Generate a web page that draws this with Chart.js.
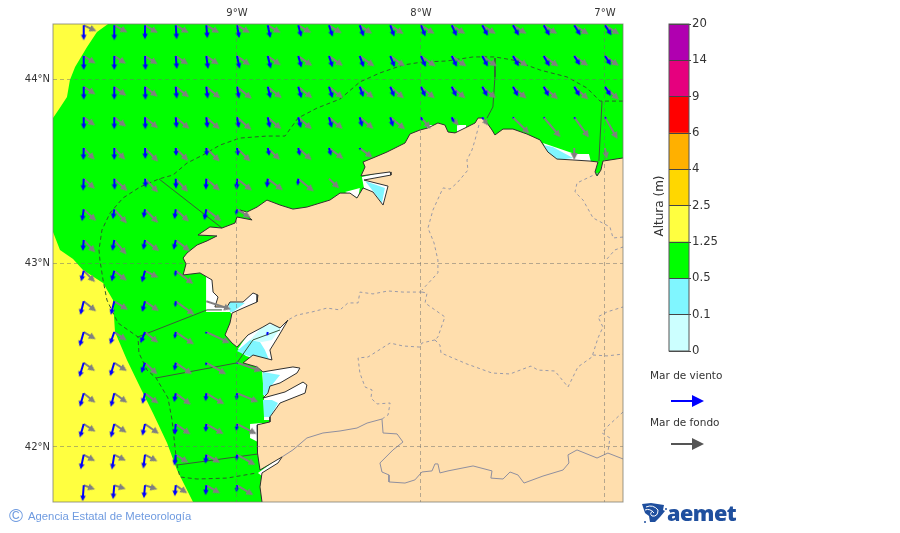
<!DOCTYPE html>
<html>
<head>
<meta charset="utf-8">
<title>Altura de ola</title>
<script src="https://cdn.jsdelivr.net/npm/chart.js@4"></script>
<style>
  html, body {margin: 0; background: #fff;}
  #page {position: relative; width: 900px; height: 533px; overflow: hidden; font-family: "DejaVu Sans", sans-serif;}
  canvas {position: absolute;}
  #map {left: 0; top: 0;}
  #bar {left: 640px; top: 10px;}
  .lbl {position: absolute; font-size: 10.5px; color: #333; white-space: nowrap;}
  .arrow {position: absolute; left: 670px;}
  #agencia {position: absolute; left: 28px; top: 510px; font: 11.3px "Liberation Sans", sans-serif; color: #6f9be0; white-space: nowrap;}
  #copy {position: absolute; left: 9px; top: 505px; font: 19px "Liberation Sans", sans-serif; color: #6f9be0;}
  #aemet {position: absolute; left: 667px; top: 498px; font: 800 21.6px "Open Sans", sans-serif; color: #1f4f9e; letter-spacing: -0.5px;}
  #logo {position: absolute; left: 642px; top: 502px;}
</style>
</head>
<body>
<div id="page">
  <canvas id="map" width="900" height="533"></canvas>
  <canvas id="bar" width="120" height="350"></canvas>
  <div class="lbl" style="left:650px;top:369px">Mar de viento</div>
  <svg class="arrow" style="top:394px" width="36" height="14"><line x1="1" y1="7" x2="24" y2="7" stroke="#0000ff" stroke-width="2"/><polygon points="22,1 34,7 22,13" fill="#0000ff"/></svg>
  <div class="lbl" style="left:650px;top:416px">Mar de fondo</div>
  <svg class="arrow" style="top:437px" width="36" height="14"><line x1="1" y1="7" x2="24" y2="7" stroke="#555" stroke-width="2"/><polygon points="22,1 34,7 22,13" fill="#555"/></svg>
  <svg id="logo" width="25" height="22"><path d="M0 2 L9 1 L22 3 L21 8 L23 9 L18 15 L13 20 L8 20 L7 14 L3 11 Z" fill="#1f4f9e"/><path d="M4 5 Q11 2 16 8 Q16 15 10 14 Q7 11 11 9 M3 8 Q8 6 12 11" fill="none" stroke="#fff" stroke-width="1"/><circle cx="24" cy="7" r="1" fill="#1f4f9e"/><circle cx="3" cy="20" r="1" fill="#1f4f9e"/></svg>
  <div id="aemet">aemet</div>
  <div id="copy">©</div>
  <div id="agencia">Agencia Estatal de Meteorología</div>
</div>
<script>
/*_____________________DATA____________________*/

const lonTicks = [-9, -8, -7];
const latTicks = [44, 43, 42];
const lonRange = [-10, -6.902];
const latRange = [41.701, 44.299];

const levels = [0, 0.1, 0.5, 1.25, 2.5, 4, 6, 9, 14, 20];
const levelColors = ['#ccffff', '#80f6ff', '#00ff00', '#ffff40', '#ffd700', '#ffb000', '#ff0000', '#e6007e', '#b000b0'];

// sea over 1.25 m starts west of this edge, everything east of it is the green band
const greenEdge = [[-9.701,44.299],[-9.761,44.255],[-9.815,44.174],[-9.880,44.065],[-9.908,43.995],[-9.924,43.902],[-9.965,43.840],[-10,43.788],[-10,43.168],[-9.962,43.071],[-9.891,43.022],[-9.837,42.962],[-9.728,42.891],[-9.674,42.799],[-9.663,42.625],[-9.598,42.473],[-9.527,42.326],[-9.457,42.185],[-9.380,42.022],[-9.326,41.875],[-9.239,41.701],[-6.902,41.701],[-6.902,44.299]];

const coast = [[-6.902,43.571],[-7.011,43.554],[-7.016,43.554],[-7.022,43.505],[-7.043,43.473],[-7.054,43.495],[-7.038,43.549],[-7.081,43.554],[-7.174,43.560],[-7.261,43.565],[-7.310,43.603],[-7.353,43.669],[-7.424,43.701],[-7.500,43.728],[-7.554,43.728],[-7.598,43.696],[-7.614,43.723],[-7.641,43.761],[-7.668,43.788],[-7.690,43.788],[-7.706,43.761],[-7.750,43.739],[-7.815,43.707],[-7.853,43.712],[-7.870,43.750],[-7.908,43.761],[-7.962,43.734],[-8.005,43.723],[-8.060,43.701],[-8.087,43.652],[-8.185,43.603],[-8.261,43.571],[-8.315,43.549],[-8.304,43.522],[-8.326,43.473],[-8.250,43.484],[-8.168,43.495],[-8.163,43.478],[-8.250,43.462],[-8.310,43.451],[-8.179,43.418],[-8.206,43.315],[-8.261,43.386],[-8.315,43.408],[-8.348,43.353],[-8.386,43.380],[-8.440,43.380],[-8.495,43.342],[-8.620,43.304],[-8.696,43.293],[-8.766,43.315],[-8.837,43.342],[-8.891,43.304],[-8.946,43.277],[-8.984,43.288],[-8.918,43.234],[-9.000,43.250],[-9.011,43.217],[-9.082,43.190],[-9.147,43.196],[-9.212,43.152],[-9.109,43.147],[-9.163,43.120],[-9.217,43.098],[-9.272,43.054],[-9.293,43.027],[-9.277,42.995],[-9.293,42.935],[-9.201,42.946],[-9.136,42.908],[-9.130,42.842],[-9.103,42.815],[-9.120,42.761],[-9.054,42.761],[-9.038,42.788],[-8.967,42.788],[-8.913,42.837],[-8.886,42.826],[-8.891,42.788],[-8.967,42.755],[-9.027,42.728],[-9.038,42.674],[-9.065,42.609],[-9.027,42.565],[-9.000,42.543],[-8.940,42.609],[-8.859,42.652],[-8.821,42.674],[-8.766,42.647],[-8.723,42.690],[-8.777,42.598],[-8.821,42.527],[-8.810,42.473],[-8.913,42.500],[-8.967,42.457],[-8.891,42.435],[-8.859,42.408],[-8.696,42.435],[-8.658,42.429],[-8.674,42.402],[-8.766,42.348],[-8.821,42.331],[-8.832,42.293],[-8.859,42.266],[-8.739,42.299],[-8.641,42.353],[-8.620,42.337],[-8.630,42.293],[-8.766,42.239],[-8.821,42.163],[-8.821,42.136],[-8.891,42.120],[-8.891,42.038],[-8.886,41.967],[-8.875,41.875],[-8.755,41.946],[-8.777,41.913],[-8.864,41.859],[-8.875,41.783],[-8.864,41.701]];
const inlandCorner = [[-6.902,41.701]];

const whitePatches = [
  [[-9.168,42.924],[-9.168,42.734],[-9.038,42.734],[-9.011,42.701],[-8.864,42.783],[-8.864,42.864],[-9.065,42.853],[-9.136,42.951]],
  [[-8.995,42.533],[-8.940,42.614],[-8.859,42.663],[-8.712,42.701],[-8.793,42.446],[-8.951,42.495]],
  [[-8.864,42.418],[-8.647,42.451],[-8.658,42.386],[-8.766,42.331],[-8.853,42.266]],
  [[-8.853,42.266],[-8.614,42.364],[-8.614,42.277],[-8.810,42.147],[-8.853,42.147]],
  [[-8.929,42.125],[-8.929,42.049],[-8.886,42.027],[-8.864,42.038],[-8.864,42.130]],
  [[-8.886,41.859],[-8.750,41.957],[-8.750,41.897],[-8.864,41.842]],
  [[-7.337,43.652],[-7.163,43.592],[-7.087,43.592],[-7.076,43.549],[-7.272,43.543]],
  [[-7.967,43.750],[-7.935,43.750],[-7.935,43.717],[-7.967,43.717]],
  [[-7.804,43.750],[-7.755,43.750],[-7.755,43.717],[-7.804,43.701]],
  [[-8.321,43.467],[-8.158,43.505],[-8.152,43.462],[-8.158,43.397],[-8.196,43.299],[-8.277,43.386],[-8.310,43.408]],
  [[-8.413,43.386],[-8.332,43.408],[-8.342,43.353]]
];
const paleBluePatches = [
  [[-8.929,42.582],[-8.859,42.658],[-8.739,42.679],[-8.810,42.582],[-8.864,42.571]]
];
const blueWaterPatches = [
  [[-9.049,42.788],[-8.957,42.783],[-9.022,42.734],[-9.038,42.734]],
  [[-9.000,42.522],[-8.929,42.582],[-8.875,42.571],[-8.848,42.527],[-8.821,42.462],[-8.913,42.489],[-8.957,42.500]],
  [[-8.859,42.408],[-8.766,42.391],[-8.810,42.337],[-8.842,42.283],[-8.859,42.283]],
  [[-8.859,42.255],[-8.810,42.255],[-8.777,42.239],[-8.821,42.163],[-8.853,42.163]],
  [[-7.337,43.641],[-7.283,43.630],[-7.174,43.571],[-7.261,43.560],[-7.310,43.598]],
  [[-8.304,43.446],[-8.196,43.408],[-8.212,43.326],[-8.261,43.391]]
];

const offshoreLimit = [[-6.902,43.880],[-7.027,43.880],[-7.098,43.951],[-7.206,44.011],[-7.353,44.049],[-7.500,44.103],[-7.598,44.120],[-7.717,44.120],[-7.859,44.098],[-7.995,44.092],[-8.098,44.076],[-8.223,44.033],[-8.332,43.984],[-8.440,43.891],[-8.565,43.842],[-8.668,43.788],[-8.739,43.690],[-8.837,43.690],[-8.984,43.679],[-9.092,43.641],[-9.185,43.587],[-9.272,43.543],[-9.348,43.478],[-9.424,43.457],[-9.527,43.413],[-9.620,43.353],[-9.690,43.272],[-9.734,43.179],[-9.750,43.071],[-9.745,43.016],[-9.728,42.908],[-9.707,42.799],[-9.647,42.674],[-9.538,42.598],[-9.533,42.511],[-9.489,42.418],[-9.440,42.375],[-9.375,42.266],[-9.353,42.147],[-9.337,42.000],[-9.326,41.902],[-9.310,41.837],[-9.217,41.826],[-9.054,41.831],[-8.891,41.859]];
const zoneLines = [
  [[-9.424,43.457],[-9.082,43.190]],
  [[-9.538,42.598],[-9.163,42.745],[-9.082,42.745]],
  [[-9.440,42.375],[-9.000,42.457],[-8.913,42.582],[-8.766,42.636]],
  [[-9.326,41.902],[-8.886,41.962]],
  [[-7.598,44.114],[-7.598,44.011],[-7.609,43.848],[-7.641,43.788]],
  [[-7.016,43.880],[-7.033,43.554]]
];
const provinceLines = [
  [[-7.685,43.750],[-7.706,43.669],[-7.723,43.614],[-7.750,43.560],[-7.745,43.505],[-7.804,43.435],[-7.842,43.402],[-7.880,43.408],[-7.935,43.288],[-7.962,43.190],[-7.929,43.109],[-7.908,43.016],[-7.908,42.946],[-7.995,42.853]],
  [[-7.995,42.842],[-8.098,42.842],[-8.179,42.848],[-8.261,42.832],[-8.332,42.842],[-8.342,42.783],[-8.397,42.783],[-8.440,42.745],[-8.511,42.755],[-8.592,42.734],[-8.674,42.717],[-8.723,42.690]],
  [[-7.995,42.842],[-7.967,42.837],[-7.978,42.783],[-7.870,42.707],[-7.908,42.598],[-7.924,42.582]],
  [[-7.924,42.582],[-7.995,42.565],[-8.005,42.543],[-8.098,42.549],[-8.168,42.565],[-8.288,42.489],[-8.342,42.484],[-8.332,42.402],[-8.304,42.326],[-8.266,42.310],[-8.272,42.266],[-8.239,42.234],[-8.168,42.239],[-8.179,42.174],[-8.212,42.152]],
  [[-7.924,42.582],[-7.897,42.554],[-7.891,42.511],[-7.750,42.451],[-7.614,42.402],[-7.516,42.397],[-7.402,42.440],[-7.364,42.418],[-7.272,42.413],[-7.201,42.326],[-7.147,42.435],[-7.071,42.489],[-7.038,42.592],[-7.011,42.652],[-7.038,42.707],[-6.989,42.734],[-6.902,42.761]],
  [[-7.065,42.500],[-6.989,42.495],[-6.902,42.505]],
  [[-7.038,43.489],[-7.152,43.435],[-7.163,43.386],[-7.119,43.342],[-7.065,43.245],[-6.973,43.196],[-6.956,43.136],[-6.902,43.141]],
  [[-6.989,43.022],[-6.946,43.071],[-6.902,43.087]],
  [[-6.902,42.190],[-6.989,42.109],[-7.016,42.076],[-6.973,42.049],[-6.984,41.973]]
];
const borderLine = [[-8.755,41.946],[-8.696,41.984],[-8.620,42.049],[-8.533,42.076],[-8.440,42.087],[-8.348,42.103],[-8.293,42.130],[-8.212,42.152],[-8.206,42.076],[-8.130,42.071],[-8.098,42.027],[-8.152,41.984],[-8.223,41.913],[-8.212,41.864],[-8.174,41.848],[-8.174,41.810],[-8.087,41.804],[-8.033,41.821],[-7.995,41.864],[-7.940,41.870],[-7.924,41.908],[-7.908,41.908],[-7.897,41.859],[-7.853,41.870],[-7.717,41.897],[-7.614,41.870],[-7.620,41.831],[-7.554,41.826],[-7.516,41.864],[-7.473,41.848],[-7.440,41.804],[-7.337,41.842],[-7.228,41.875],[-7.196,41.913],[-7.201,41.957],[-7.152,41.984],[-7.043,41.940],[-6.984,41.967],[-6.902,41.935]];

const gridLons = [-9.833,-9.667,-9.5,-9.333,-9.167,-9,-8.833,-8.667,-8.5,-8.333,-8.167,-8,-7.833,-7.667,-7.5,-7.333,-7.167,-7];
const gridLats = [44.292,44.125,43.958,43.792,43.625,43.458,43.292,43.125,42.958,42.792,42.625,42.458,42.292,42.125,41.958,41.792];
const _ = null;

// heading in degrees, clockwise from east as seen on the map
const windDir = [
  [90,90,90,86,85,80,78,75,72,70,70,68,65,62,60,60,58,57],
  [90,90,88,85,82,78,76,74,72,70,68,66,64,62,60,60,58,57],
  [90,90,88,85,83,80,76,74,72,70,68,66,64,62,62,62,60,58],
  [90,90,88,85,83,80,78,76,74,75,73,70,65,60,55,55,55,55],
  [92,90,88,86,85,82,78,78,75,72],
  [93,88,85,88,92,92,95,95],
  [98,98,100,97,100,100],
  [95,100,100,102],
  [104,104,105,95],
  [104,104,105,95],
  [106,109,112,100,100,_,100],
  [107,107,109,100,100,100],
  [106,104,104,100,95,95],
  [106,104,103,95,95,95],
  [102,99,97,97,95,95],
  [94,95,95,95,94,95]
];
const windMag = [
  [15,15,14,14,13,13,13,12,12,12,12,12,12,12,12,12,12,12],
  [14,14,14,13,13,13,13,12,12,12,12,12,12,12,12,12,11,11],
  [13,13,13,12,12,12,12,12,12,11,11,11,11,11,11,11,11,11],
  [12,12,12,11,11,11,11,11,11,10,10,4,6,3,1,1,2,2],
  [12,12,11,8,8,8,8,8,8,2],
  [12,11,9,10,11,11,9,7],
  [12,10,9,10,11,6],
  [11,11,10,10],
  [11,11,12,6],
  [14,14,11,6],
  [15,13,12,7,2,_,4],
  [15,14,11,8,3,1],
  [14,14,11,9,8,7],
  [14,14,12,11,8,7],
  [15,15,14,11,9,6],
  [16,14,13,11,10,7]
];
const swellDir = [
  [25,28,30,30,30,30,30,30,32,34,33,32,32,32,32,32,32,32],
  [32,33,33,34,34,35,35,35,35,35,35,35,35,35,35,35,35,35],
  [33,37,38,38,39,39,39,39,39,39,40,40,40,40,41,41,42,43],
  [36,38,40,40,41,41,41,41,40,40,39,50,50,55,45,50,54,60],
  [47,47,46,46,45,45,44,42,37,37,_,_,_,_,_,_,90,80],
  [42,43,46,47,41,38,37,39,43],
  [43,48,46,43,38,32],
  [47,50,38,38],
  [45,38,27,37],
  [39,32,35,36,18],
  [31,34,39,34,25],
  [36,33,43,35,30,19],
  [39,36,37,37,31,22],
  [33,35,35,35,30,27],
  [29,27,28,32,30,29],
  [20,18,18,35,30,31]
];
const swellMag = [
  [14,15,15,15,15,15,15,15,15,15,16,16,16,16,16,16,17,17],
  [14,14,15,15,15,16,16,17,17,18,18,18,18,18,18,18,17,17],
  [14,15,16,17,18,19,18,18,18,18,18,18,18,18,18,19,19,19],
  [14,15,17,18,18,19,18,18,18,18,19,15,11,10,23,26,25,25],
  [16,16,19,18,19,19,17,18,18,16,_,_,_,_,_,_,12,11],
  [15,18,19,18,18,19,19,20,14],
  [17,19,19,18,19,16],
  [17,19,18,18],
  [16,16,15,22],
  [16,16,17,23,26],
  [14,15,17,22,26],
  [14,15,17,20,23,26],
  [15,16,17,19,21,23],
  [14,15,17,18,20,22],
  [13,13,14,15,16,21],
  [12,12,13,14,16,19]
];

/*_____________________HELPERS____________________*/

function pts(list) {
  return list.map(p => ({x: p[0], y: p[1]}));
}

function gridPoints(dirs, mags) {
  const out = [];
  gridLats.forEach((lat, r) => {
    gridLons.forEach((lon, c) => {
      if (mags[r][c] == null) return;
      out.push({x: lon, y: lat, dir: dirs[r][c], mag: mags[r][c]});
    });
  });
  return out;
}

function area(list, color) {
  return {data: pts(list), showLine: true, fill: 'shape', backgroundColor: color, borderWidth: 0, pointRadius: 0};
}

function line(list, color, width, dash) {
  return {data: pts(list), showLine: true, fill: false, borderColor: color, borderWidth: width, borderDash: dash || [], pointRadius: 0, tension: 0};
}

// arrow stamped with its tail on the canvas centre, so rotation pivots on the tail
const stamps = {};
function arrowStamp(color, mag, head, shaft) {
  const key = color + mag;
  if (stamps[key]) return stamps[key];
  const c = document.createElement('canvas');
  c.width = 2 * mag + 8;
  c.height = 16;
  const g = c.getContext('2d');
  const x0 = c.width / 2, y0 = c.height / 2;
  const h = Math.min(head, mag * 0.6);
  g.strokeStyle = color;
  g.fillStyle = color;
  g.lineWidth = shaft;
  g.beginPath();
  g.moveTo(x0, y0);
  g.lineTo(x0 + mag - h + 0.5, y0);
  g.stroke();
  g.beginPath();
  g.moveTo(x0 + mag, y0);
  g.lineTo(x0 + mag - h, y0 - h * 0.5);
  g.lineTo(x0 + mag - h, y0 + h * 0.5);
  g.closePath();
  g.fill();
  stamps[key] = c;
  return c;
}

function arrows(dirs, mags, color, head, shaft) {
  return {
    data: gridPoints(dirs, mags),
    showLine: false,
    pointRadius: 1,
    pointStyle: ctx => ctx.raw ? arrowStamp(color, ctx.raw.mag, head, shaft) : 'circle',
    rotation: ctx => ctx.raw ? ctx.raw.dir : 0
  };
}

/*_____________________MAP____________________*/

const layers = [
  area([[lonRange[0],latRange[0]],[lonRange[0],latRange[1]],[lonRange[1],latRange[1]],[lonRange[1],latRange[0]]], '#ffff40'),
  area(greenEdge, '#00ff00'),
  ...whitePatches.map(p => area(p, '#ffffff')),
  ...paleBluePatches.map(p => area(p, '#ccffff')),
  ...blueWaterPatches.map(p => area(p, '#80f6ff')),
  area(coast.concat(inlandCorner), '#ffdead'),
  line(borderLine, '#8f8f9f', 1),
  ...provinceLines.map(p => line(p, '#9a9aa8', 1, [3, 3])),
  line(offshoreLimit, '#2e5a2e', 1, [4, 3]),
  ...zoneLines.map(p => line(p, '#3a5a3a', 1)),
  line(coast, '#303030', 1),
  arrows(swellDir, swellMag, '#808080', 7, 2),
  arrows(windDir, windMag, '#0000ff', 5.5, 2)
];
// later layers paint over earlier ones
layers.forEach((d, i) => { d.order = layers.length - i; });

const frame = {
  id: 'frame',
  afterDraw(chart) {
    const a = chart.chartArea, g = chart.ctx;
    g.save();
    g.strokeStyle = 'rgba(120,120,110,0.75)';
    g.lineWidth = 1;
    g.strokeRect(a.left, a.top, a.right - a.left, a.bottom - a.top);
    g.restore();
  }
};

new Chart(document.getElementById('map'), {
  type: 'scatter',
  data: {datasets: layers},
  options: {
    responsive: false,
    animation: false,
    events: [],
    layout: {padding: {top: 0, left: 0, right: 277, bottom: 31}},
    plugins: {legend: {display: false}, tooltip: {enabled: false}},
    scales: {
      x: {
        type: 'linear', position: 'top', min: lonRange[0], max: lonRange[1],
        afterBuildTicks: s => { s.ticks = lonTicks.map(v => ({value: v})); },
        afterFit: s => { s.height = 24; },
        ticks: {callback: v => Math.abs(v) + '°W', font: {family: 'DejaVu Sans', size: 10}, color: '#333', padding: 5, maxRotation: 0},
        grid: {color: 'rgba(110,110,110,0.5)', drawTicks: false, z: 1},
        border: {display: false, dash: [4, 3]}
      },
      y: {
        type: 'linear', min: latRange[0], max: latRange[1],
        afterBuildTicks: s => { s.ticks = latTicks.map(v => ({value: v})); },
        afterFit: s => { s.width = 53; },
        ticks: {callback: v => v + '°N', font: {family: 'DejaVu Sans', size: 10}, color: '#333', padding: 3},
        grid: {color: 'rgba(110,110,110,0.5)', drawTicks: false, z: 1},
        border: {display: false, dash: [4, 3]}
      }
    }
  },
  plugins: [frame]
});

/*_____________________COLOUR_BAR____________________*/

const barTitle = {
  id: 'barTitle',
  afterDraw(chart) {
    const a = chart.chartArea, g = chart.ctx;
    g.save();
    g.strokeStyle = '#555';
    g.lineWidth = 1;
    g.strokeRect(a.left, a.top, a.right - a.left, a.bottom - a.top);
    g.translate(20, 196);
    g.rotate(-Math.PI / 2);
    g.font = '12px "DejaVu Sans"';
    g.fillStyle = '#333';
    g.textAlign = 'center';
    g.textBaseline = 'middle';
    g.fillText('Altura (m)', 0, 0);
    g.restore();
  }
};

new Chart(document.getElementById('bar'), {
  type: 'bar',
  data: {
    labels: [''],
    datasets: levelColors.map(c => ({data: [1], backgroundColor: c, barPercentage: 1, categoryPercentage: 1}))
  },
  options: {
    responsive: false,
    animation: false,
    events: [],
    layout: {padding: {top: 14, left: 29, right: 0, bottom: 9}},
    plugins: {legend: {display: false}, tooltip: {enabled: false}},
    scales: {
      x: {stacked: true, display: false},
      y: {
        stacked: true, position: 'right', min: 0, max: levels.length - 1,
        afterFit: s => { s.width = 71; },
        ticks: {stepSize: 1, callback: v => levels[v], font: {family: 'DejaVu Sans', size: 11.7}, color: '#333', padding: 1, autoSkip: false},
        grid: {color: '#444', tickLength: 2, z: 1},
        border: {display: false}
      }
    }
  },
  plugins: [barTitle]
});
</script>
</body>
</html>
